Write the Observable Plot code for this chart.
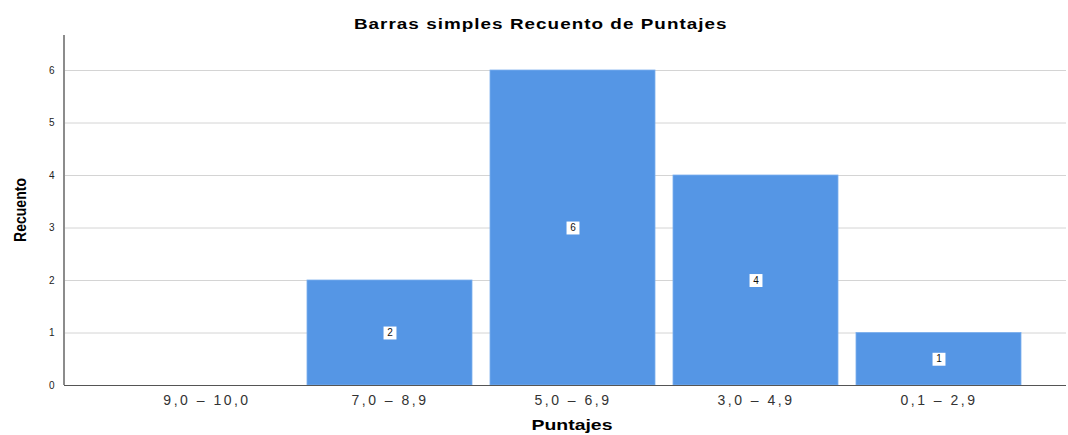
<!DOCTYPE html>
<html>
<head>
<meta charset="utf-8">
<script src="https://cdn.jsdelivr.net/npm/d3@7"></script>
<script src="https://cdn.jsdelivr.net/npm/@observablehq/plot@0.6"></script>
<style>
  html, body { margin: 0; padding: 0; background: #fff; }
  #title { height: 30px; box-sizing: border-box; padding-top: 16px; line-height: 16px; text-align: center; padding-left: 14px; }
  #title span { display: inline-block; font: bold 14.5px "Liberation Sans", Arial, sans-serif; color: #000; letter-spacing: 0.8px; transform: scaleX(1.3); transform-origin: center; }
  #chart svg { display: block; }
  #chart g[aria-label="x-axis tick label"] text { letter-spacing: 2.5px; }
</style>
</head>
<body>
<div id="title"><span>Barras simples Recuento de Puntajes</span></div>
<div id="chart"></div>
<script>
const categories = ["9,0 – 10,0", "7,0 – 8,9", "5,0 – 6,9", "3,0 – 4,9", "0,1 – 2,9"];
const counts = [0, 2, 6, 4, 1];
const yTicks = [0, 1, 2, 3, 4, 5, 6];
const xTitle = "Puntajes";
const yTitle = "Recuento";

const data = categories.map((c, i) => ({cat: c, count: counts[i]}));
const labeled = data.filter(d => d.count > 0);

const yAxisLine = (index, scales, values, dims) => d3.create("svg:line")
  .attr("x1", dims.marginLeft).attr("x2", dims.marginLeft)
  .attr("y1", dims.marginTop).attr("y2", dims.height - dims.marginBottom)
  .attr("stroke", "#8c8c8c").attr("stroke-width", 2).node();

const yTitleMark = (index, scales, values, dims) => d3.create("svg:text")
  .attr("transform", `translate(20,${(dims.marginTop + dims.height - dims.marginBottom) / 2}) rotate(-90)`)
  .attr("text-anchor", "middle").attr("dy", "0.35em")
  .attr("font-size", 17).attr("font-weight", "bold").attr("fill", "#000")
  .attr("textLength", 64).attr("lengthAdjust", "spacingAndGlyphs")
  .text(yTitle).node();

const xTitleMark = (index, scales, values, dims) => d3.create("svg:text")
  .attr("x", (dims.marginLeft + dims.width - dims.marginRight) / 2 + 7)
  .attr("y", dims.height - 5)
  .attr("text-anchor", "middle")
  .attr("font-size", 15).attr("font-weight", "bold").attr("fill", "#000")
  .attr("textLength", 81).attr("lengthAdjust", "spacingAndGlyphs")
  .text(xTitle).node();

const chart = Plot.plot({
  width: 1068,
  height: 405,
  marginLeft: 64,
  marginRight: 2,
  marginTop: 5,
  marginBottom: 50,
  style: {fontFamily: "'Liberation Sans', Arial, sans-serif", background: "#fff", color: "#222"},
  x: {domain: categories, range: [114.3, 1031.2], paddingInner: 0.1, paddingOuter: 0.05, label: null},
  y: {domain: [0, 6.667], label: null},
  marks: [
    Plot.gridY(yTicks, {stroke: "#d4d4d4", strokeOpacity: 1, strokeWidth: 1}),
    Plot.barY(data, {x: "cat", y: "count", fill: "#5596e5", stroke: "#7aaeee", strokeWidth: 0.8}),
    Plot.ruleY([0], {stroke: "#555", strokeWidth: 1.2}),
    yAxisLine,
    Plot.axisY(yTicks, {tickSize: 0, tickPadding: 10, fontSize: 10, label: null, fill: "#222", tickFormat: d3.format("d")}),
    Plot.axisX({tickSize: 0, tickPadding: 10, fontSize: 14, label: null, fill: "#333"}),
    Plot.dot(labeled, {x: "cat", y: d => d.count / 2, symbol: "square", r: 7.3, fill: "#fff"}),
    Plot.text(labeled, {x: "cat", y: d => d.count / 2, text: d => String(d.count), fontSize: 10, fill: "#111"}),
    yTitleMark,
    xTitleMark
  ]
});
document.getElementById("chart").appendChild(chart);
</script>
</body>
</html>
